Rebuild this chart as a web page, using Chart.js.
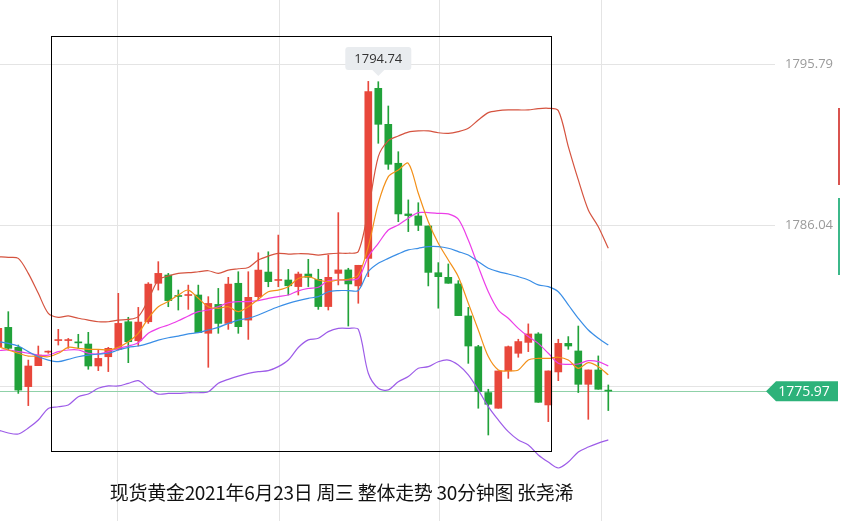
<!DOCTYPE html>
<html>
<head>
<meta charset="utf-8">
<script src="https://cdn.jsdelivr.net/npm/chart.js@4.4.0/dist/chart.umd.min.js"></script>
<style>
  html, body { margin: 0; padding: 0; background: #fff; }
  #wrap { position: relative; width: 844px; height: 521px; }
  #caption {
    position: absolute; left: 0; width: 683px; top: 478px; text-align: center;
    font-family: "Noto Sans CJK SC", sans-serif; font-size: 19px; color: #111;
    letter-spacing: -0.3px;
  }
</style>
</head>
<body>
<div id="wrap">
  <canvas id="chart" width="844" height="521"></canvas>
  <div id="caption">现货黄金2021年6月23日 周三 整体走势 30分钟图 张尧浠</div>
</div>
<script>
// candles, index -1 .. 60
const opens  = [1778.67,1779.84,1778.63,1776.25,1777.52,1778.35,1779.05,1779.05,1778.95,1778.83,1777.50,1778.06,1778.51,1780.18,1779.03,1780.18,1782.51,1783.01,1781.76,1781.78,1781.80,1779.48,1781.23,1780.08,1782.51,1780.28,1781.70,1783.19,1782.69,1782.71,1782.31,1783.07,1782.75,1781.10,1783.11,1783.32,1782.35,1784.02,1794.32,1792.14,1789.78,1786.71,1786.59,1785.98,1783.15,1782.87,1782.47,1780.53,1778.67,1775.89,1774.94,1777.20,1778.27,1778.93,1779.44,1775.14,1777.14,1778.87,1778.41,1776.39,1777.26,1776.03];
const highs  = [1779.90,1780.79,1778.77,1777.86,1778.71,1778.41,1779.72,1779.17,1779.42,1779.54,1778.47,1778.63,1781.90,1780.45,1781.05,1782.55,1783.82,1783.11,1782.10,1782.40,1782.40,1781.70,1782.20,1782.87,1783.21,1783.21,1784.36,1784.42,1785.43,1783.35,1783.19,1783.96,1783.36,1784.22,1786.79,1783.42,1783.60,1794.74,1794.72,1793.25,1790.48,1787.56,1787.39,1785.98,1783.76,1783.68,1782.67,1781.05,1778.75,1776.09,1777.20,1778.71,1779.12,1780.05,1779.52,1777.20,1779.12,1779.28,1779.92,1777.26,1778.11,1776.35];
const lows   = [1778.50,1778.47,1775.84,1775.10,1777.52,1778.27,1778.77,1778.57,1778.57,1777.30,1777.22,1777.16,1778.47,1777.70,1778.71,1780.08,1782.10,1781.09,1780.89,1780.93,1779.52,1777.42,1779.48,1779.72,1779.48,1779.11,1781.50,1782.30,1782.30,1781.80,1781.80,1782.31,1780.93,1780.89,1782.41,1779.92,1781.30,1782.91,1790.99,1789.41,1786.24,1785.64,1785.70,1782.35,1781.00,1782.51,1780.55,1777.66,1774.94,1773.32,1774.94,1776.75,1778.03,1778.37,1775.30,1774.13,1776.61,1778.51,1775.89,1774.27,1776.09,1774.80];
const closes = [1779.78,1778.57,1776.04,1777.50,1778.16,1778.39,1779.09,1779.09,1778.91,1777.50,1777.96,1778.57,1780.08,1778.97,1780.16,1782.46,1783.11,1781.46,1781.72,1781.82,1779.52,1781.29,1780.08,1782.46,1779.88,1781.66,1783.31,1782.61,1782.73,1782.36,1783.07,1782.87,1781.10,1782.87,1783.32,1782.47,1783.60,1794.12,1792.14,1789.72,1786.71,1786.61,1786.02,1783.17,1782.91,1782.51,1780.55,1778.71,1775.95,1775.18,1777.20,1778.67,1778.98,1779.44,1775.30,1777.20,1778.87,1778.71,1776.39,1777.26,1776.09,1775.99];

const bollUpper = [1784.12,1784.08,1784.02,1783.11,1781.90,1780.69,1780.45,1780.53,1780.39,1780.28,1780.18,1780.18,1780.28,1780.32,1780.49,1781.50,1782.71,1782.95,1783.11,1783.15,1783.21,1783.27,1783.11,1783.31,1783.39,1783.47,1783.92,1784.16,1784.32,1784.28,1784.30,1784.29,1784.22,1784.29,1784.33,1784.33,1784.43,1786.95,1790.18,1791.15,1791.43,1791.67,1791.74,1791.74,1791.63,1791.59,1791.70,1791.90,1792.40,1792.85,1792.97,1793.01,1793.01,1793.01,1793.09,1793.11,1792.97,1790.79,1788.77,1786.95,1785.94,1784.63];
const bollMid   = [1778.97,1778.87,1778.71,1778.37,1778.06,1777.86,1777.76,1777.90,1778.06,1778.16,1778.22,1778.27,1778.47,1778.63,1778.71,1778.87,1779.07,1779.21,1779.31,1779.44,1779.52,1779.68,1779.84,1780.08,1780.28,1780.39,1780.59,1780.85,1781.09,1781.29,1781.46,1781.60,1781.70,1782.00,1782.07,1782.07,1782.07,1783.22,1783.72,1784.02,1784.29,1784.53,1784.63,1784.73,1784.73,1784.63,1784.43,1784.22,1783.82,1783.42,1783.22,1783.07,1782.91,1782.71,1782.41,1782.31,1782.00,1781.20,1780.39,1779.68,1779.18,1778.77];
const bollLower = [1773.62,1773.44,1773.38,1773.74,1774.23,1774.93,1775.03,1775.14,1775.64,1775.80,1776.15,1776.29,1776.29,1776.45,1776.61,1776.15,1775.80,1775.84,1775.84,1775.88,1775.88,1775.94,1776.45,1776.69,1776.89,1777.05,1777.16,1777.22,1777.46,1777.86,1778.62,1779.08,1779.18,1779.58,1779.78,1779.78,1779.72,1777.06,1776.15,1776.05,1776.55,1776.86,1777.36,1777.46,1777.76,1777.86,1777.56,1776.96,1776.05,1775.04,1774.23,1773.52,1773.02,1772.71,1772.11,1771.68,1771.32,1771.68,1772.29,1772.59,1772.83,1773.02];
const ma5  = [1778.67,1778.47,1778.27,1778.10,1778.10,1778.06,1778.27,1778.63,1778.57,1778.51,1778.51,1778.47,1778.63,1778.97,1779.48,1780.39,1781.09,1781.40,1781.80,1782.10,1781.60,1781.09,1780.99,1781.09,1780.79,1781.09,1781.54,1782.00,1782.10,1782.30,1782.80,1782.91,1782.71,1782.61,1782.71,1782.75,1783.01,1784.73,1787.35,1788.97,1789.37,1789.78,1787.96,1786.24,1784.93,1783.92,1782.91,1781.30,1779.68,1778.07,1777.26,1777.20,1777.26,1777.86,1777.96,1777.96,1778.03,1777.86,1777.36,1777.70,1777.46,1776.96];
const ma10 = [1778.43,1778.47,1778.37,1778.27,1778.16,1778.16,1778.37,1778.47,1778.47,1778.27,1778.23,1778.37,1778.57,1778.71,1778.91,1779.48,1779.78,1779.98,1780.24,1780.53,1780.79,1780.89,1781.09,1781.33,1781.40,1781.40,1781.46,1781.60,1781.70,1781.80,1782.05,1782.20,1782.27,1782.67,1782.71,1782.71,1782.81,1784.12,1784.93,1785.74,1786.04,1786.45,1786.79,1786.79,1786.75,1786.71,1786.39,1785.13,1783.52,1782.00,1780.89,1780.39,1779.78,1779.28,1778.87,1778.27,1777.66,1777.60,1777.62,1777.82,1777.76,1777.50];

const firstIndex = -1;
const yTickLabels = [1795.79, 1786.04];
const yGridValues = [1795.79, 1786.04, 1776.29];
const xGridValues = [10.87, 27.07, 43.07, 59.27];
const lastPrice = 1775.97;
const peakPrice = 1794.74;
const peakIndex = 36;

const UP = '#e8473b', DOWN = '#21a23a';

function pts(arr) {
    return arr.map((v, k) => ({ x: firstIndex + k, y: v }));
}
const bodies = opens.map((o, k) => {
    const c = closes[k];
    let lo = Math.min(o, c), hi = Math.max(o, c);
    if (hi - lo < 0.06) { const m = (hi + lo) / 2; lo = m - 0.03; hi = m + 0.03; }
    return { x: firstIndex + k, y: [lo, hi] };
});
const wicks = highs.map((h, k) => ({ x: firstIndex + k, y: [lows[k], h] }));
const candleColors = opens.map((o, k) => closes[k] >= o ? UP : DOWN);

const decorPlugin = {
    id: 'decor',
    beforeDatasetsDraw(chart) {
        const { ctx, scales: { x, y } } = chart;
        ctx.save();
        ctx.strokeStyle = '#e4e4e4';
        ctx.lineWidth = 1;
        yGridValues.forEach(v => {
            const py = Math.round(y.getPixelForValue(v)) + 0.5;
            ctx.beginPath(); ctx.moveTo(0, py); ctx.lineTo(775, py); ctx.stroke();
        });
        xGridValues.forEach(v => {
            const px = Math.round(x.getPixelForValue(v)) + 0.5;
            ctx.beginPath(); ctx.moveTo(px, 0); ctx.lineTo(px, 521); ctx.stroke();
        });
        // last price line
        const lp = Math.round(y.getPixelForValue(lastPrice)) + 0.5;
        ctx.strokeStyle = '#8fd1a8';
        ctx.beginPath(); ctx.moveTo(0, lp); ctx.lineTo(770, lp); ctx.stroke();
        ctx.restore();
    },
    afterDatasetsDraw(chart) {
        const { ctx, scales: { x, y } } = chart;
        ctx.save();
        // frame
        ctx.strokeStyle = '#000';
        ctx.lineWidth = 1;
        ctx.strokeRect(51.5, 36.5, 500, 415);
        // right tick labels
        ctx.font = '13px "Open Sans", sans-serif';
        ctx.fillStyle = '#9a9a9a';
        ctx.textAlign = 'right';
        ctx.textBaseline = 'middle';
        yTickLabels.forEach(v => ctx.fillText(v.toFixed(2), 833, y.getPixelForValue(v)));
        // last price tag
        const lp = y.getPixelForValue(lastPrice);
        ctx.fillStyle = '#2db27a';
        ctx.beginPath();
        ctx.moveTo(766, lp); ctx.lineTo(776, lp - 10); ctx.lineTo(838, lp - 10);
        ctx.lineTo(838, lp + 10); ctx.lineTo(776, lp + 10); ctx.closePath(); ctx.fill();
        ctx.fillStyle = '#fff';
        ctx.font = '14px "Open Sans", sans-serif';
        ctx.textAlign = 'center';
        ctx.fillText(lastPrice.toFixed(2), 804, lp + 1);
        // peak tag
        const px = x.getPixelForValue(peakIndex) + 10;
        const py = 58;
        ctx.fillStyle = '#e9ecef';
        ctx.beginPath();
        ctx.roundRect(px - 33, py - 11, 66, 23, 3);
        ctx.fill();
        ctx.beginPath();
        ctx.moveTo(px - 6, py + 12); ctx.lineTo(px, py + 18); ctx.lineTo(px + 6, py + 12); ctx.fill();
        ctx.fillStyle = '#333';
        ctx.font = '13px "Open Sans", sans-serif';
        ctx.fillText(peakPrice.toFixed(2), px, py + 1);
        // edge markers
        ctx.fillStyle = '#d9534f';
        ctx.fillRect(838, 108, 2, 77);
        ctx.fillStyle = '#3cb88a';
        ctx.fillRect(838, 198, 2, 77);
        ctx.restore();
    }
};

function lineSet(data, color) {
    return { type: 'line', data: pts(data), borderColor: color, borderWidth: 1.2,
             pointRadius: 0, tension: 0.3, fill: false, order: 0 };
}

new Chart(document.getElementById('chart'), {
    type: 'bar',
    data: {
        datasets: [
            { data: wicks, backgroundColor: candleColors, barThickness: 1, grouped: false, order: 2 },
            { data: bodies, backgroundColor: candleColors, barThickness: 7, grouped: false, order: 1 },
            lineSet(bollUpper, '#d5533f'),
            lineSet(bollMid, '#3a8ee6'),
            lineSet(bollLower, '#9d5ce8'),
            lineSet(ma5, '#f39019'),
            lineSet(ma10, '#ec3ee8')
        ]
    },
    options: {
        responsive: false,
        animation: false,
        layout: { padding: 0 },
        plugins: { legend: { display: false }, tooltip: { enabled: false } },
        scales: {
            x: { type: 'linear', display: false, min: -0.83, max: 83.57, offset: false },
            y: { display: false, min: 1768.11, max: 1799.67 }
        }
    },
    plugins: [decorPlugin]
});
</script>
</body>
</html>
